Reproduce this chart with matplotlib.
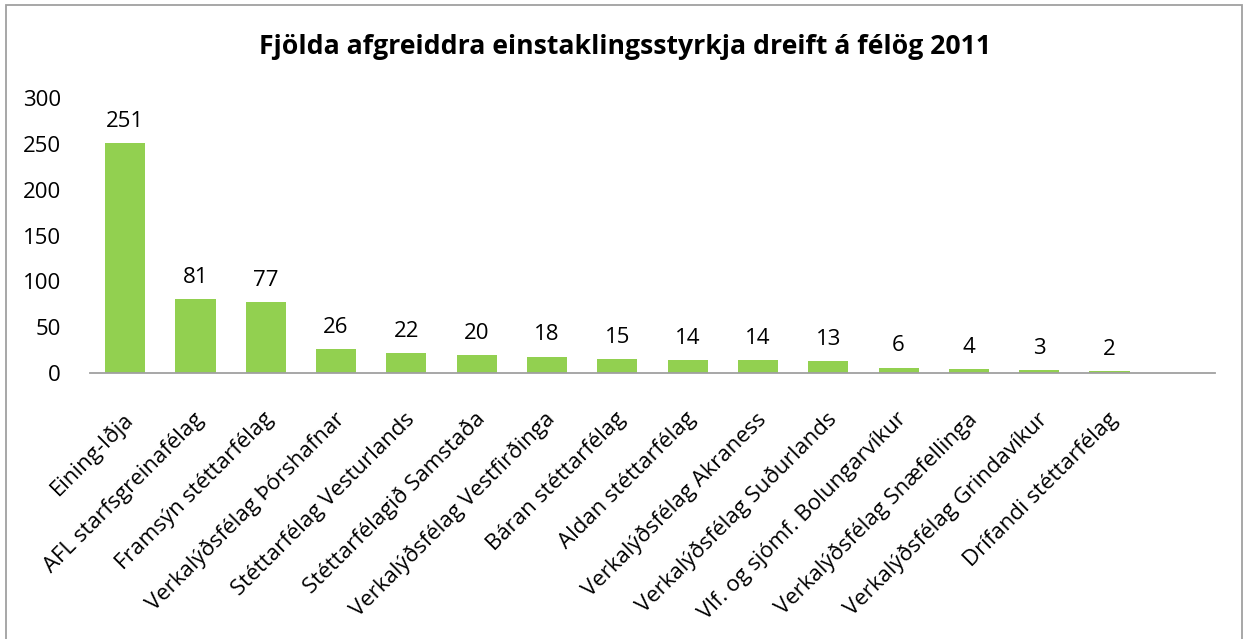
import matplotlib
matplotlib.use("Agg")
import matplotlib.pyplot as plt
from matplotlib.patches import Rectangle
from matplotlib.transforms import ScaledTranslation

categories = [
    "Eining-Iðja", "AFL starfsgreinafélag", "Framsýn stéttarfélag",
    "Verkalýðsfélag Þórshafnar", "Stéttarfélag Vesturlands",
    "Stéttarfélagið Samstaða", "Verkalýðsfélag Vestfirðinga",
    "Báran stéttarfélag", "Aldan stéttarfélag", "Verkalýðsfélag Akraness",
    "Verkalýðsfélag Suðurlands", "Vlf. og sjómf. Bolungarvíkur",
    "Verkalýðsfélag Snæfellinga", "Verkalýðsfélag Grindavíkur",
    "Drífandi stéttarfélag",
]
values = [251, 81, 77, 26, 22, 20, 18, 15, 14, 14, 13, 6, 4, 3, 2]
yticks = [0, 50, 100, 150, 200, 250, 300]
title = "Fjölda afgreiddra einstaklingsstyrkja dreift á félög 2011"

plt.rcParams['font.family'] = ['Open Sans', 'DejaVu Sans']

W, H = 1244, 639
fig = plt.figure(figsize=(W / 100, H / 100), dpi=100)
ax = fig.add_axes([90 / W, (H - 373) / H, (1215 - 90) / W, (373 - 98) / H])

x = list(range(len(categories)))
ax.bar(x, values, width=0.57, color="#92D050", zorder=2)
for xi, v in zip(x, values):
    ax.annotate(str(v), (xi, v), xytext=(0, 8), textcoords="offset points",
                ha="center", va="bottom", fontsize=16, color="black")

ax.set_xlim(-0.5, len(categories) + 0.5)
ax.set_ylim(0, 300)
ax.set_yticks(yticks)
ax.set_yticklabels([str(t) for t in yticks], fontsize=16)
ax.set_xticks(x)
ax.set_xticklabels(categories, rotation=45, ha="right", va="center",
                   rotation_mode="anchor", fontsize=16)
ax.tick_params(axis="both", length=0)
ax.tick_params(axis="y", pad=21)
ax.tick_params(axis="x", pad=0)
offset = ScaledTranslation(0.05, -0.43, fig.dpi_scale_trans)
for lbl in ax.get_xticklabels():
    lbl.set_transform(lbl.get_transform() + offset)
for s in ["top", "right", "left"]:
    ax.spines[s].set_visible(False)
ax.spines["bottom"].set_color("#A0A0A0")
ax.spines["bottom"].set_linewidth(1.3)
ax.spines["bottom"].set_zorder(3)

fig.text(625 / W, 1 - 47 / H, title, ha="center", va="center",
         fontsize=19.2, fontweight="bold")

fig.patches.append(Rectangle((6 / W, -0.02), (1242 - 6) / W, 1 - 5 / H + 0.02,
                             transform=fig.transFigure, fill=False,
                             edgecolor="#A0A0A0", linewidth=1.3))

fig.savefig("out.png", dpi=100)
